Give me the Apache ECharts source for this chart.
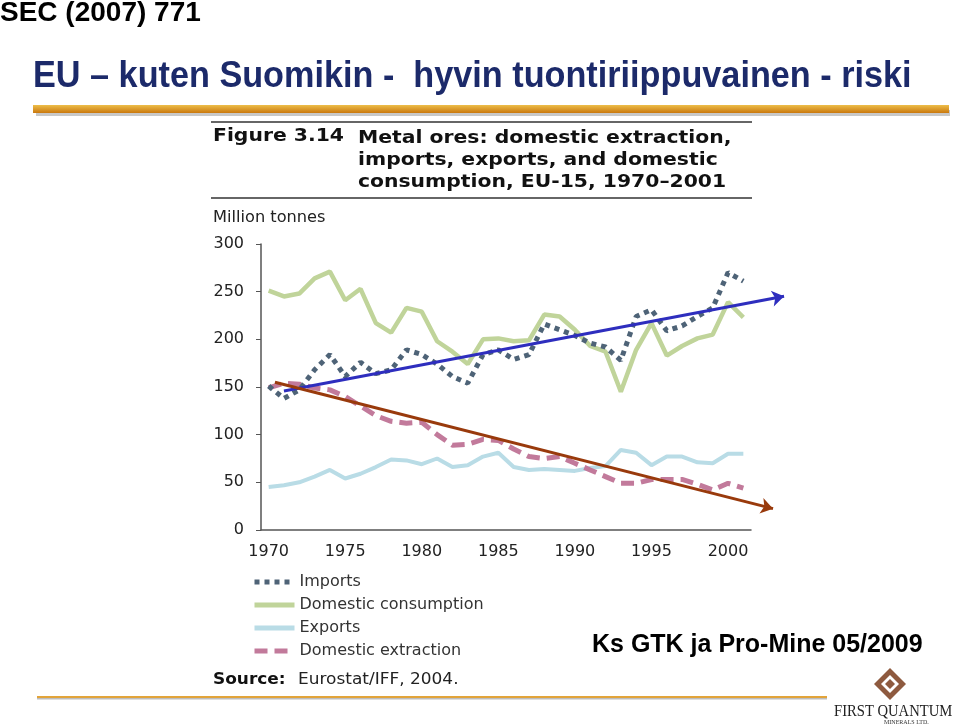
<!DOCTYPE html>
<html>
<head>
<meta charset="utf-8">
<script src="https://cdn.jsdelivr.net/npm/echarts@6/dist/echarts.min.js"></script>
<style>
html,body{margin:0;padding:0;background:#fff;}
#c{width:960px;height:727px;}
</style>
</head>
<body>
<div id="c"></div>
<script>
const years = ['1970','1971','1972','1973','1974','1975','1976','1977','1978','1979','1980','1981','1982','1983','1984','1985','1986','1987','1988','1989','1990','1991','1992','1993','1994','1995','1996','1997','1998','1999','2000','2001'];
const imports = [151,138,147,168,184,161,176,164,168,189,184,174,161,154,184,189,179,184,216,210,204,196,192,178,224,231,209,214,224,233,270,261];
const consumption = [251,245,248,264,271,241,253,217,207,233,229,198,187,174,200,201,198,199,226,224,210,193,187,145,189,217,183,193,201,205,239,223];
const exportsV = [45,47,50,56,63,54,59,66,74,73,69,75,66,68,77,81,66,63,64,63,62,65,67,84,81,68,77,77,71,70,80,80];
const extraction = [149,154,153,149,147,140,130,120,114,112,113,100,89,90,95,94,85,77,75,77,70,63,56,49,49,53,53,53,48,42,49,44];
const yTicks = [0, 300, 50];
// trend arrows (year, value)
const importTrend = [[1971.0, 145.8], [2003.66, 245.1]];
const extractionTrend = [[1970.41, 155], [2002.94, 22.4]];

const chart = echarts.init(document.getElementById('c'));
const F = '"DejaVu Sans", Verdana, sans-serif';
const FT = '"Liberation Sans", Arial, sans-serif';
const clear = 'rgba(0,0,0,0)';

const option = {
  backgroundColor: '#fff',
  animation: false,
  grid: {left: 261, right: 209, top: 244, bottom: 197, containLabel: false},
  legend: {
    orient: 'vertical', left: 252, top: 574, padding: 0, itemWidth: 40, itemHeight: 14, itemGap: 7,
    textStyle: {fontFamily: F, fontSize: 16, color: '#333'},
    itemStyle: {color: clear, borderColor: clear, borderWidth: 0, opacity: 0},
    lineStyle: {width: 5},
    data: ['Imports', 'Domestic consumption', 'Exports', 'Domestic extraction'],
    selectedMode: false
  },
  xAxis: [{
    type: 'category', data: years, boundaryGap: true,
    axisLine: {lineStyle: {color: '#555', width: 1.5}},
    axisTick: {interval: 0, length: 5, lineStyle: {color: '#555'}},
    axisLabel: {interval: 4, fontFamily: F, fontSize: 16, color: '#222', margin: 14},
    splitLine: {show: false}
  }, {
    type: 'value', min: 1969.5, max: 2001.5, show: false
  }],
  yAxis: {
    type: 'value', min: yTicks[0], max: yTicks[1], interval: yTicks[2],
    axisLine: {show: true, lineStyle: {color: '#555', width: 1.5}},
    axisTick: {show: true, length: 5, lineStyle: {color: '#555'}},
    axisLabel: {fontFamily: F, fontSize: 16, color: '#222', margin: 17},
    splitLine: {show: false}
  },
  series: [
    {name: 'Exports', type: 'line', data: exportsV, symbol: 'none', z: 2,
     lineStyle: {color: '#B9DCE6', width: 4}, itemStyle: {color: '#B9DCE6'}},
    {name: 'Domestic consumption', type: 'line', data: consumption, symbol: 'none', z: 2,
     lineStyle: {color: '#C0D49A', width: 4.5}, itemStyle: {color: '#C0D49A'}},
    {name: 'Domestic extraction', type: 'line', data: extraction, symbol: 'none', z: 3,
     lineStyle: {color: '#C27A9B', width: 5, type: [13, 7]}, itemStyle: {color: '#C27A9B'}},
    {name: 'Imports', type: 'line', data: imports, symbol: 'none', z: 3,
     lineStyle: {color: '#4E6377', width: 5, type: [5, 5]}, itemStyle: {color: '#4E6377'}},
    {type: 'lines', coordinateSystem: 'cartesian2d', xAxisIndex: 1, yAxisIndex: 0, z: 5, clip: false, silent: true,
     symbol: ['none', 'arrow'], symbolSize: 12,
     lineStyle: {color: '#2E2EBE', width: 3, opacity: 1},
     data: [{coords: importTrend}]},
    {type: 'lines', coordinateSystem: 'cartesian2d', xAxisIndex: 1, yAxisIndex: 0, z: 5, clip: false, silent: true,
     symbol: ['none', 'arrow'], symbolSize: 12,
     lineStyle: {color: '#993A0C', width: 3, opacity: 1},
     data: [{coords: extractionTrend}]}
  ],
  graphic: [
    {type: 'text', left: 0, top: -1, style: {text: 'SEC (2007) 771', font: 'bold 28px ' + FT, fill: '#000'}},
    {type: 'text', x: 33, y: 58, scaleX: 0.925, style: {text: 'EU \u2013 kuten Suomikin -  hyvin tuontiriippuvainen - riski', font: 'bold 37px ' + FT, fill: '#1C2A6A'}},
    {type: 'rect', shape: {x: 36, y: 110, width: 914, height: 6}, style: {fill: '#C8C8C8'}},
    {type: 'rect', shape: {x: 33, y: 105, width: 916, height: 8},
     style: {fill: new echarts.graphic.LinearGradient(0, 0, 0, 1, [{offset: 0, color: '#EDBE4A'}, {offset: 1, color: '#C9780E'}])}},
    {type: 'line', shape: {x1: 211, y1: 122, x2: 752, y2: 122}, style: {stroke: '#333', lineWidth: 1.5}},
    {type: 'line', shape: {x1: 211, y1: 198, x2: 752, y2: 198}, style: {stroke: '#333', lineWidth: 1.5}},
    {type: 'text', x: 213, y: 127, scaleX: 1.13, style: {text: 'Figure 3.14', font: 'bold 18px ' + F, fill: '#111'}},
    {type: 'text', x: 358, y: 127, scaleX: 1.13, style: {text: 'Metal ores: domestic extraction,\nimports, exports, and domestic\nconsumption, EU-15, 1970\u20132001', font: 'bold 18px ' + F, fill: '#111', lineHeight: 22}},
    {type: 'text', x: 213, y: 211, scaleX: 1.08, style: {text: 'Million tonnes', font: '15px ' + F, fill: '#222'}},
    {type: 'text', x: 213, y: 672, scaleX: 1.06, style: {text: 'Source:', font: 'bold 16px ' + F, fill: '#111'}},
    {type: 'text', x: 298, y: 672, scaleX: 1.06, style: {text: 'Eurostat/IFF, 2004.', font: '16px ' + F, fill: '#222'}},
    {type: 'text', left: 592, top: 633, style: {text: 'Ks GTK ja Pro-Mine 05/2009', font: 'bold 25px "Liberation Sans", Arial, sans-serif', fill: '#000'}},
    {type: 'rect', shape: {x: 37, y: 698, width: 790, height: 1.5}, style: {fill: '#BDBDBD'}},
    {type: 'rect', shape: {x: 37, y: 696, width: 790, height: 2}, style: {fill: '#E2A43A'}},
    {type: 'polygon', shape: {points: [[890, 668], [906, 684], [890, 700], [874, 684]]}, style: {fill: '#8E5A3F'}},
    {type: 'polygon', shape: {points: [[890, 675], [899, 684], [890, 693], [881, 684]]}, style: {fill: '#fff'}},
    {type: 'polygon', shape: {points: [[890, 679], [895, 684], [890, 689], [885, 684]]}, style: {fill: '#8E5A3F'}},
    {type: 'text', x: 834, y: 703, scaleX: 0.86, style: {text: 'FIRST QUANTUM', font: '17px "Liberation Serif", serif', fill: '#222'}},
    {type: 'text', x: 884, y: 719, style: {text: 'MINERALS LTD.', font: '6px "Liberation Serif", serif', fill: '#333'}}
  ]
};
chart.setOption(option);
</script>
</body>
</html>
